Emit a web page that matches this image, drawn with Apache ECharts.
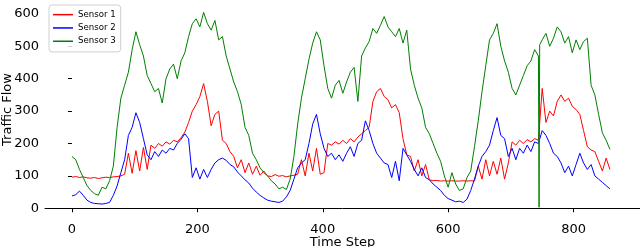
<!DOCTYPE html>
<html><head><meta charset="utf-8">
<script src="https://cdn.jsdelivr.net/npm/echarts@6/dist/echarts.min.js"></script>
<style>html,body{margin:0;padding:0;background:#fff}#c{width:640px;height:247px}</style>
</head><body><div id="c"></div>
<script>
const seriesNames = ['Sensor 1', 'Sensor 2', 'Sensor 3'];
const seriesColors = ['#ff0000', '#0000ff', '#008000'];
const timeStep = 6; // sampling interval of the arrays below (time steps)
const sensor1 = [
  96, 98, 95, 97, 94, 93, 95, 92, 94, 96,
  95, 97, 98, 100, 105, 170, 108, 178, 115, 188,
  120, 195, 185, 200, 192, 205, 198, 210, 205, 218,
  235, 265, 300, 320, 345, 385, 330, 255, 290, 300,
  210, 200, 175, 160, 125, 150, 110, 140, 105, 130,
  102, 115, 100, 98, 104, 99, 101, 97, 100, 102,
  105, 150, 100, 170, 115, 185, 105, 110, 200, 195,
  205, 198, 210, 200, 215, 205, 220, 230, 240, 250,
  330, 360, 370, 345, 335, 310, 320, 295, 215, 165,
  160, 115, 150, 100, 135, 88, 85, 86, 84, 85,
  84, 85, 84, 84, 85, 84, 85, 84, 130, 90,
  150, 100, 145, 105, 155, 90, 140, 205, 195, 210,
  200, 212, 205, 215, 210, 370, 265, 300, 285, 330,
  350, 330, 340, 315, 305, 290, 240, 190, 180, 175,
  145, 115, 155, 120
];
const sensor2 = [
  38, 42, 53, 40, 25, 18, 15, 14, 13, 15,
  18, 40, 69, 110, 150, 225, 250, 295, 265, 215,
  165, 150, 175, 160, 180, 170, 185, 180, 200, 213,
  230, 215, 95, 125, 90, 120, 95, 120, 140, 150,
  155, 148, 135, 128, 112, 100, 88, 78, 62, 50,
  40, 32, 25, 22, 20, 18, 22, 35, 55, 90,
  125, 140, 150, 200, 260, 290, 230, 185, 160, 170,
  150, 165, 145, 170, 190, 160, 200, 210, 270, 240,
  200, 170, 155, 140, 135, 95, 145, 85, 185, 165,
  145, 120, 100, 125, 95, 88, 75, 65, 55, 40,
  30, 25, 20, 22, 18, 28, 55, 90, 130, 160,
  175, 195, 240, 280, 225, 215, 160, 185, 150, 185,
  170, 195, 175, 205, 200, 240, 225, 200, 170, 160,
  140, 110, 130, 100, 135, 170, 140, 120, 135, 100,
  90, 80, 70, 60
];
const sensor3 = [
  160, 150, 120, 95, 70, 55, 45, 40, 65, 60,
  85, 130, 250, 340, 380, 420, 490, 545, 505, 470,
  410, 385, 360, 370, 325, 400, 430, 445, 400, 455,
  480, 530, 570, 585, 560, 605, 570, 550, 580, 520,
  530, 470, 430, 390, 360, 320, 250, 225, 170, 150,
  125, 110, 100, 85, 75, 60, 65, 58, 90, 160,
  260, 340, 400, 460, 510, 545, 520, 440, 370, 340,
  380, 395, 355, 390, 420, 435, 330, 470, 495, 515,
  555, 540, 565, 592, 560, 545, 530, 555, 510, 550,
  430, 380, 340, 310, 250, 230, 200, 170, 145, 100,
  65, 110, 75, 55, 60, 95, 115, 190, 270, 360,
  440, 520, 540, 570, 500, 455, 420, 370, 350, 380,
  410, 440, 455, 490, 470, 520, 540, 500, 525, 560,
  545, 510, 530, 480, 520, 490, 515, 525, 380, 350,
  290, 233, 210, 182
];
// sharp single-step drop of Sensor 3 near step 745: [time step, value]
const sensor3Spike = [[745, 3], [746, 505]];
const xTicks = [0, 200, 400, 600, 800];
const yTicks = [0, 100, 200, 300, 400, 500, 600];

function toPairs(arr) { return arr.map((v, i) => [i * timeStep, v]); }
const s3 = toPairs(sensor3).concat(sensor3Spike).sort((a, b) => a[0] - b[0]);
const allData = [toPairs(sensor1), toPairs(sensor2), s3];

const font = 'DejaVu Sans';
const chart = echarts.init(document.getElementById('c'), null, {renderer: 'canvas'});
chart.setOption({
  animation: false,
  backgroundColor: '#fff',
  grid: {left: 45, right: 0, top: 1, bottom: 29, containLabel: false, outerBoundsMode: 'none'},
  legend: {
    orient: 'vertical', left: 49, top: 5,
    icon: 'rect',
    itemWidth: 20, itemHeight: 1.5, itemGap: 0,
    padding: [3, 5, 4, 4],
    borderColor: '#d0d0d0', borderWidth: 1, borderRadius: 3,
    backgroundColor: 'rgba(255,255,255,0.8)',
    textStyle: {fontFamily: font, fontSize: 8.6, color: '#000', lineHeight: 13.3},
    data: seriesNames
  },
  xAxis: {
    type: 'value', min: -43, max: 906,
    splitLine: {show: false},
    axisLine: {lineStyle: {color: '#000', width: 1}},
    axisTick: {customValues: xTicks, length: 4, lineStyle: {color: '#000'}},
    axisLabel: {customValues: xTicks, fontFamily: font, fontSize: 13, color: '#000', margin: 5},
    name: 'Time Step', nameLocation: 'middle', nameGap: 18, nameMoveOverlap: false,
    nameTextStyle: {fontFamily: font, fontSize: 13, color: '#000'}
  },
  yAxis: {
    type: 'value', min: -30, max: 640,
    splitLine: {show: false},
    axisLine: {show: false},
    axisTick: {show: true, customValues: yTicks, length: 4, lineStyle: {color: '#000'}},
    axisLabel: {customValues: yTicks, fontFamily: font, fontSize: 13, color: '#000', margin: 6},
    name: 'Traffic Flow', nameLocation: 'middle', nameGap: 31, nameRotate: 90, nameMoveOverlap: false,
    nameTextStyle: {fontFamily: font, fontSize: 13, color: '#000'}
  },
  series: seriesNames.map((n, k) => ({
    name: n, type: 'line', data: allData[k],
    symbol: 'none', showSymbol: false,
    color: seriesColors[k],
    lineStyle: {color: seriesColors[k], width: 1}
  }))
});
</script>
</body></html>
